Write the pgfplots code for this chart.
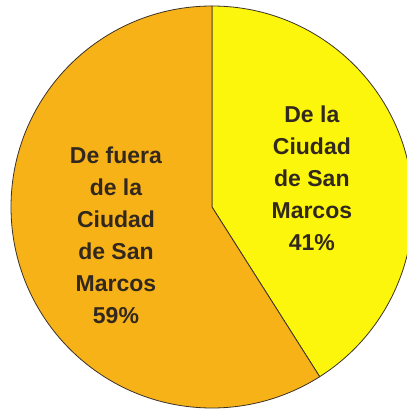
\documentclass[border=0pt]{standalone}
\usepackage{pgfplots}
\pgfplotsset{compat=1.18}
\usepackage{pgfplotstable}
\usepackage{fontspec}
\setmainfont{Liberation Sans}

\definecolor{pieyellow}{RGB}{252,246,12}
\definecolor{pieorange}{RGB}{247,178,24}
\definecolor{edgecol}{RGB}{60,50,40}
\definecolor{labcol}{RGB}{50,40,30}

% share of respondents (percent)
\pgfplotstableread{
share
41
59
}\sharetable

\begin{document}
\begin{tikzpicture}
\useasboundingbox (0,0) rectangle (407pt,410pt);
\pgfplotstablegetelem{0}{share}\of\sharetable \let\shareA\pgfplotsretval
\pgfplotstablegetelem{1}{share}\of\sharetable \let\shareB\pgfplotsretval
\pgfmathsetmacro\angA{90-3.6*\shareA}
\pgfmathsetmacro\angB{\angA+360}
\pgfmathsetmacro\midA{90-1.8*\shareA}
\pgfmathsetmacro\midB{\angA-1.8*\shareB}
\begin{axis}[
    at={(0,0)}, anchor=south west,
    x=1pt, y=1pt,
    xmin=-212, xmax=195, ymin=-203, ymax=207,
    hide axis,
]
\filldraw[fill=pieyellow, draw=edgecol, line width=0.8pt]
    (axis cs:0,0) -- (axis cs:0,201) arc[start angle=90, end angle=\angA, radius=201pt] -- cycle;
\filldraw[fill=pieorange, draw=edgecol, line width=0.8pt]
    (axis cs:0,0) -- (axis cs:0,201) arc[start angle=90, end angle=\angB, radius=201pt] -- cycle;
\node[align=center, text=labcol, font=\bfseries\fontsize{23}{32}\selectfont]
    at (axis cs:{104*cos(\midA)},{104*sin(\midA)}) {De la\\Ciudad\\de San\\Marcos\\\shareA\%};
\node[align=center, text=labcol, font=\bfseries\fontsize{23}{32}\selectfont]
    at (axis cs:{100*cos(\midB)},{100*sin(\midB)}) {De fuera\\de la\\Ciudad\\de San\\Marcos\\\shareB\%};
\end{axis}
\end{tikzpicture}
\end{document}
